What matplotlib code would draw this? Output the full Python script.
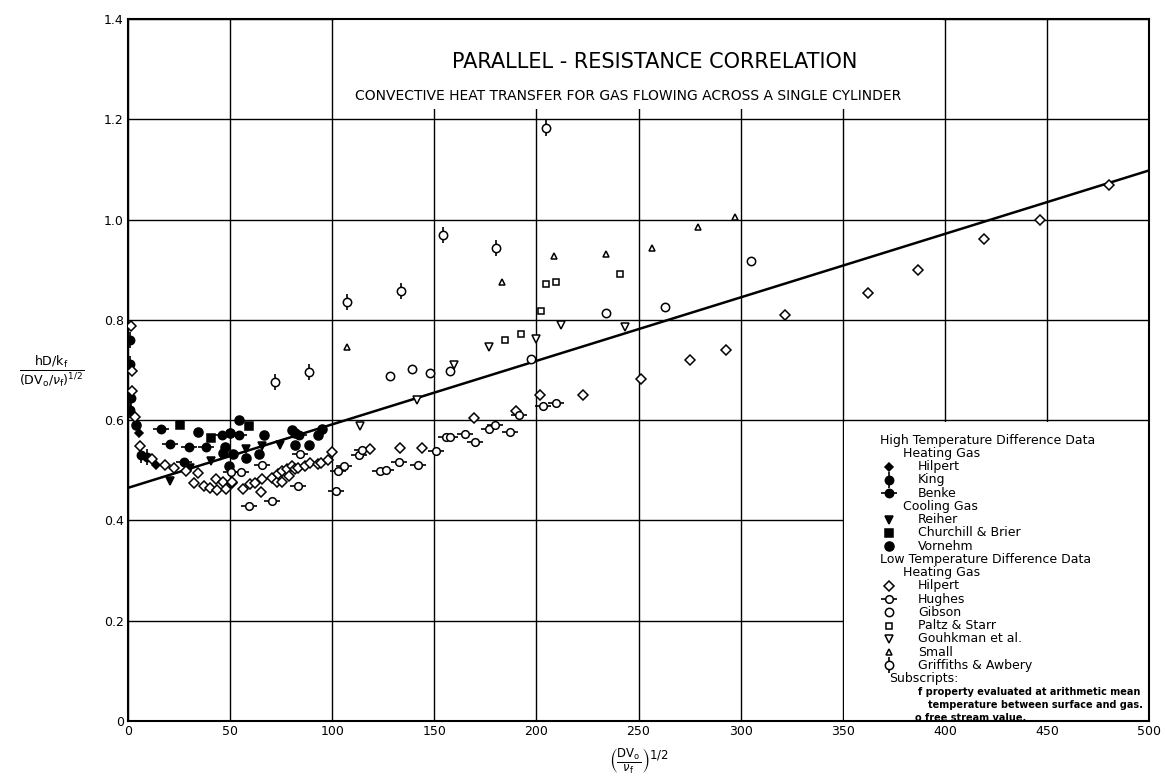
import matplotlib
matplotlib.use("Agg")
import matplotlib.pyplot as plt
from matplotlib.patches import Rectangle

plt.rcParams['font.family'] = ['DejaVu Sans']
plt.rcParams['mathtext.fontset'] = 'dejavusans'

# ---- correlation line ----
line_x = [0, 500]
line_y = [0.465, 1.098]

# ---- high temperature difference data ----
# heating gas
hilpert_hi_x = [5.2, 13.8]
hilpert_hi_y = [0.574, 0.511]
king_x = [0.8, 0.8, 1.6, 1.1, 6.5, 9.3]
king_y = [0.760, 0.711, 0.644, 0.620, 0.531, 0.527]
benke_x = [16.0, 20.7, 29.8, 38.1, 46.1, 27.2, 50.0, 54.5, 83.8]
benke_y = [0.583, 0.552, 0.547, 0.547, 0.570, 0.516, 0.574, 0.571, 0.571]
# cooling gas
reiher_x = [20.5, 30.4, 40.6, 58.0, 65.5, 74.5]
reiher_y = [0.478, 0.504, 0.519, 0.542, 0.548, 0.551]
churchill_x = [25.6, 40.6, 59.0]
churchill_y = [0.591, 0.564, 0.589]
vornehm_x = [4.1, 34.4, 49.7, 54.5, 66.5, 80.3, 82.0, 94.9, 92.9, 82.0, 88.5,
             51.5, 58.0, 64.3, 47.5, 46.5, 49.4]
vornehm_y = [0.591, 0.577, 0.575, 0.601, 0.571, 0.581, 0.575, 0.582, 0.571, 0.551, 0.551,
             0.532, 0.525, 0.532, 0.547, 0.535, 0.508]

# ---- low temperature difference data (heating gas) ----
hilpert_x = [1.3, 1.8, 2.0, 3.6, 5.7, 11.7, 17.9, 22.3, 28.5, 34.2, 32.4, 37.0, 40.2,
             43.5, 43.0, 46.4, 47.9, 51.0, 50.8, 56.5, 59.8, 62.2, 65.4, 64.9, 70.3,
             72.8, 73.6, 75.2, 75.2, 77.7, 79.0, 80.4, 81.8, 83.4, 86.6, 89.1, 92.8,
             94.7, 97.7, 100.0, 118.5, 133.0, 144.0, 169.6, 190.0, 201.7, 223.0,
             251.0, 275.2, 292.8, 321.8, 362.3, 386.7, 419.0, 446.8, 480.4]
hilpert_y = [0.787, 0.698, 0.659, 0.607, 0.549, 0.522, 0.510, 0.505, 0.498, 0.494, 0.475,
             0.469, 0.465, 0.460, 0.483, 0.476, 0.462, 0.475, 0.476, 0.463, 0.473, 0.475,
             0.482, 0.456, 0.484, 0.476, 0.492, 0.499, 0.477, 0.503, 0.489, 0.508, 0.502,
             0.505, 0.508, 0.514, 0.512, 0.515, 0.520, 0.536, 0.542, 0.545, 0.545, 0.605,
             0.618, 0.650, 0.651, 0.683, 0.720, 0.739, 0.810, 0.854, 0.899, 0.962, 0.999,
             1.068]
hughes_x = [50.5, 55.5, 59.0, 65.4, 70.3, 83.4, 84.2, 101.9, 102.7, 106.0, 113.0, 114.6,
            123.2, 126.1, 132.6, 141.9, 150.8, 155.7, 157.8, 165.2, 170.0, 177.0, 179.5,
            187.2, 191.7, 203.2, 209.8]
hughes_y = [0.497, 0.497, 0.429, 0.511, 0.438, 0.469, 0.532, 0.458, 0.498, 0.508, 0.531,
            0.541, 0.498, 0.500, 0.516, 0.511, 0.538, 0.566, 0.567, 0.573, 0.556, 0.583,
            0.590, 0.576, 0.610, 0.628, 0.635]
gibson_x = [128.3, 138.9, 148.1, 157.7, 197.2, 234.3, 262.9, 305.0]
gibson_y = [0.688, 0.702, 0.694, 0.698, 0.721, 0.814, 0.825, 0.917]
paltz_x = [184.4, 192.2, 202.4, 204.9, 209.4, 241.1]
paltz_y = [0.760, 0.772, 0.818, 0.871, 0.876, 0.892]
gouhkman_x = [113.8, 141.5, 159.8, 176.6, 200.0, 211.8, 243.4]
gouhkman_y = [0.588, 0.640, 0.710, 0.746, 0.762, 0.790, 0.785]
small_x = [107.3, 183.0, 208.6, 234.2, 256.8, 279.2, 297.1]
small_y = [0.745, 0.875, 0.928, 0.931, 0.944, 0.985, 1.005]
griffiths_x = [72.2, 88.8, 107.0, 133.5, 154.2, 180.1, 204.9]
griffiths_y = [0.677, 0.696, 0.835, 0.858, 0.970, 0.944, 1.182]

y_ticks = [0, 0.2, 0.4, 0.6, 0.8, 1.0, 1.2, 1.4]
y_tick_labels = ['0', '0.2', '0.4', '0.6', '0.8', '1.0', '1.2', '1.4']
x_ticks = list(range(0, 501, 50))


# marker styles: (marker, size, filled, bar)
styles = {
    'hilpert_hi': ('D', 4.3, True, None),
    'king': ('o', 6.0, True, '|'),
    'benke': ('o', 6.0, True, '_'),
    'reiher': ('v', 6.0, True, None),
    'churchill': ('s', 5.5, True, None),
    'vornehm': ('o', 6.5, True, None),
    'hilpert': ('D', 4.6, False, None),
    'hughes': ('o', 5.5, False, '_'),
    'gibson': ('o', 6.0, False, None),
    'paltz': ('s', 5.0, False, None),
    'gouhkman': ('v', 5.5, False, None),
    'small': ('^', 5.0, False, None),
    'griffiths': ('o', 6.0, False, '|'),
}


def draw(ax, x, y, kind):
    m, ms, filled, bar = styles[kind]
    if bar is not None:
        ax.plot(x, y, linestyle='none', marker=bar, ms=ms * 2.0, mew=1.2,
                color='black', zorder=3)
    ax.plot(x, y, linestyle='none', marker=m, ms=ms, mew=1.1,
            mec='black', mfc='black' if filled else 'white', zorder=4)


fig = plt.figure(figsize=(11.65, 7.82), dpi=100)
ax = fig.add_axes([0.1099, 0.078, 0.8764, 0.8977])
ax.set_xlim(0, 500)
ax.set_ylim(0, 1.4)
ax.set_xticks(x_ticks)
ax.set_yticks(y_ticks)
ax.set_yticklabels(y_tick_labels)
ax.tick_params(length=0, labelsize=9, pad=3)
ax.grid(True, color='black', linewidth=1.0)
ax.set_axisbelow(True)
for s in ax.spines.values():
    s.set_linewidth(1.5)

# white areas for title and key
ax.add_patch(Rectangle((100.7, 1.22), 298.6, 0.18, facecolor='white',
                       edgecolor='none', zorder=1))
ax.add_patch(Rectangle((350.7, 0.0), 149.3, 0.597, facecolor='white',
                       edgecolor='none', zorder=1))

ax.plot(line_x, line_y, color='black', linewidth=1.8, zorder=2)

draw(ax, hilpert_hi_x, hilpert_hi_y, 'hilpert_hi')
draw(ax, king_x, king_y, 'king')
draw(ax, benke_x, benke_y, 'benke')
draw(ax, reiher_x, reiher_y, 'reiher')
draw(ax, churchill_x, churchill_y, 'churchill')
draw(ax, vornehm_x, vornehm_y, 'vornehm')
draw(ax, hilpert_x, hilpert_y, 'hilpert')
draw(ax, hughes_x, hughes_y, 'hughes')
draw(ax, gibson_x, gibson_y, 'gibson')
draw(ax, paltz_x, paltz_y, 'paltz')
draw(ax, gouhkman_x, gouhkman_y, 'gouhkman')
draw(ax, small_x, small_y, 'small')
draw(ax, griffiths_x, griffiths_y, 'griffiths')

# titles
ax.text(258, 1.314, 'PARALLEL - RESISTANCE CORRELATION', ha='center', va='center',
        fontsize=15, zorder=5)
ax.text(245, 1.246, 'CONVECTIVE HEAT TRANSFER FOR GAS FLOWING ACROSS A SINGLE CYLINDER',
        ha='center', va='center', fontsize=10, zorder=5)

# key
key = [
    (368.3, None, 'High Temperature Difference Data'),
    (379.4, None, 'Heating Gas'),
    (386.8, 'hilpert_hi', 'Hilpert'),
    (386.8, 'king', 'King'),
    (386.8, 'benke', 'Benke'),
    (379.4, None, 'Cooling Gas'),
    (386.8, 'reiher', 'Reiher'),
    (386.8, 'churchill', 'Churchill & Brier'),
    (386.8, 'vornehm', 'Vornehm'),
    (368.3, None, 'Low Temperature Difference Data'),
    (379.4, None, 'Heating Gas'),
    (386.8, 'hilpert', 'Hilpert'),
    (386.8, 'hughes', 'Hughes'),
    (386.8, 'gibson', 'Gibson'),
    (386.8, 'paltz', 'Paltz & Starr'),
    (386.8, 'gouhkman', 'Gouhkman et al.'),
    (386.8, 'small', 'Small'),
    (386.8, 'griffiths', 'Griffiths & Awbery'),
    (372.7, None, 'Subscripts:'),
]
ky = 0.560
for kx, kind, label in key:
    ax.text(kx, ky, label, ha='left', va='center', fontsize=9, zorder=5)
    if kind is not None:
        draw(ax, [372.7], [ky], kind)
    ky -= 0.0264
notes = [(386.8, 'f property evaluated at arithmetic mean'),
         (391.9, 'temperature between surface and gas.'),
         (385.5, 'o free stream value.')]
for kx, label in notes:
    ax.text(kx, ky, label, ha='left', va='center', fontsize=7, fontweight='bold', zorder=5)
    ky -= 0.0264

fig.text(0.0446, 0.5256, r'$\frac{\mathrm{hD/k_f}}{\mathrm{(DV_o/}\nu_\mathrm{f}\mathrm{)^{1/2}}}$',
         ha='center', va='center', fontsize=13)
fig.text(0.548, 0.027, r'$\left(\frac{\mathrm{DV_o}}{\nu_\mathrm{f}}\right)^{1/2}$',
         ha='center', va='center', fontsize=12)

fig.savefig('out.png', dpi=100)
